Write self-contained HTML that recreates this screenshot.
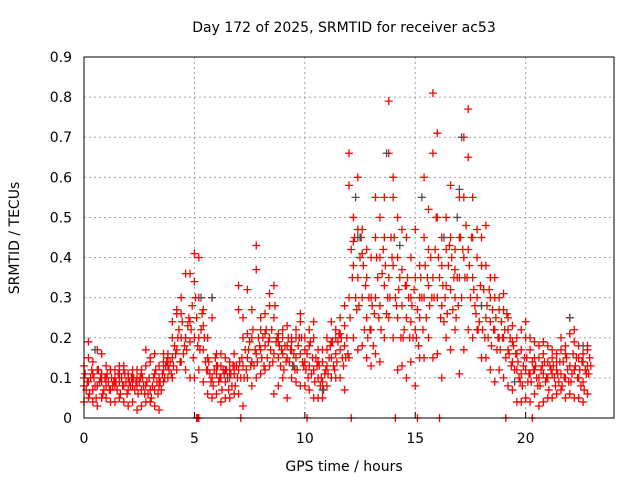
<!DOCTYPE html>
<html><head><meta charset="utf-8"><style>
body{margin:0;background:#fff;width:640px;height:480px;overflow:hidden}
svg{font-family:"DejaVu Sans","Liberation Sans",sans-serif;font-size:14px}
</style></head><body>
<svg id="chart" width="640" height="480">
<text x="344" y="32" text-anchor="middle">Day 172 of 2025, SRMTID for receiver ac53</text>
<text x="344" y="471" text-anchor="middle">GPS time / hours</text>
<text transform="translate(19,238) rotate(-90)" text-anchor="middle">SRMTID / TECUs</text>
<g id="grid"></g>
<g id="axes"></g>
<g id="marks"></g>
<rect x="84" y="57" width="530" height="361" fill="none" stroke="#000"/>
</svg>
<script>
const xTicks=[0,5,10,15,20];
const yTicks=[0,0.1,0.2,0.3,0.4,0.5,0.6,0.7,0.8,0.9];
const yTickLabels=["0","0.1","0.2","0.3","0.4","0.5","0.6","0.7","0.8","0.9"];
const tStep=0.2;
const redA=[.08,.09,.07,.08,.09,.08,.07,.08,.09,.08,.07,.08,.08,.07,.08,.07,.07,.08,.12,.13,.15,.17,.2,.2,.19,.2,.2,.17,.12,.1,.11,.1,.09,.1,.11,.12,.13,.15,.14,.16,.17,.18,.2,.16,.15,.16,.15,.17,.15,.16,.14,.13,.12,.1,.09,.13,.15,.16,.17,.18,.3,.38,.35,.3,.25,.22,.3,.28,.33,.35,.38,.25,.28,.25,.24,.22,.25,.3,.33,.35,.3,.28,.33,.32,.3,.35,.4,.42,.35,.3,.28,.25,.24,.22,.2,.2,.17,.14,.12,.11,.12,.11,.12,.1,.11,.1,.11,.12,.11,.1,.13,.12,.1,.09,.13];
const redB=[.04,.05,.04,.03,.05,.05,.04,.04,.05,.04,.03,.04,.02,.03,.04,.04,.03,.02,.09,.1,.1,.12,.14,.12,.1,.1,.12,.09,.06,.05,.06,.04,.05,.05,.06,.06,.03,.1,.08,.1,.11,.12,.13,.06,.08,.1,.05,.1,.09,.08,.08,.07,.05,.05,.05,.08,.1,.1,.1,.07,.15,.2,.17,.18,.15,.13,.16,.14,.2,.25,.2,.12,.13,.1,.14,.08,.15,.15,.2,.15,.16,.1,.2,.17,.22,.11,.17,.22,.2,.22,.15,.15,.12,.09,.12,.1,.08,.07,.04,.04,.05,.04,.06,.03,.04,.05,.05,.06,.07,.05,.06,.05,.05,.04,.06];
const redC=[.13,.15,.14,.12,.16,.13,.12,.12,.13,.12,.11,.12,.12,.11,.13,.14,.16,.13,.16,.16,.24,.27,.3,.36,.24,.41,.4,.27,.2,.3,.16,.16,.15,.14,.16,.33,.25,.32,.27,.43,.25,.26,.31,.33,.21,.22,.23,.2,.22,.26,.2,.22,.24,.17,.17,.2,.24,.2,.25,.28,.66,.5,.6,.47,.42,.4,.55,.5,.55,.79,.55,.5,.47,.45,.4,.47,.38,.6,.52,.81,.71,.45,.5,.58,.42,.55,.7,.77,.55,.47,.45,.48,.35,.35,.3,.31,.25,.23,.2,.22,.24,.2,.19,.18,.19,.18,.17,.16,.2,.18,.25,.22,.18,.16,.18];
const redD=[.10,.19,.11,.17,.11,.10,.12,.10,.11,.13,.10,.10,.10,.12,.17,.15,.11,.10,.14,.15,.2,.26,.26,.2,.36,.34,.3,.23,.15,.25,.13,.13,.12,.12,.13,.27,.2,.21,.2,.37,.22,.21,.28,.25,.19,.2,.18,.19,.2,.24,.17,.18,.2,.14,.14,.17,.19,.22,.21,.23,.58,.44,.47,.41,.35,.3,.45,.4,.45,.66,.6,.4,.37,.33,.3,.35,.3,.45,.42,.66,.5,.38,.42,.45,.37,.45,.55,.65,.45,.4,.38,.38,.3,.3,.27,.27,.22,.19,.16,.17,.2,.17,.15,.15,.16,.14,.15,.14,.17,.16,.21,.19,.15,.14,.17];
const redE=[.07,.1,.08,.09,.07,.09,.08,.07,.1,.09,.08,.07,.09,.08,.06,.08,.09,.07,.13,.14,.18,.22,.16,.23,.28,.25,.22,.14,.11,.12,.09,.12,.1,.08,.13,.1,.17,.19,.13,.2,.2,.15,.22,.19,.13,.18,.14,.16,.18,.14,.16,.11,.15,.08,.11,.15,.13,.19,.15,.2,.42,.3,.4,.22,.3,.18,.35,.36,.26,.45,.3,.35,.22,.3,.2,.27,.3,.25,.4,.42,.35,.24,.38,.27,.35,.3,.48,.3,.28,.24,.32,.2,.27,.17,.24,.15,.2,.12,.1,.13,.09,.14,.1,.12,.09,.13,.1,.09,.14,.12,.11,.15,.08,.12,.15];
const redF=[.11,.06,.1,.12,.06,.11,.1,.09,.06,.11,.09,.1,.06,.1,.09,.05,.12,.09,.1,.12,.13,.2,.24,.17,.22,.3,.17,.2,.14,.08,.13,.07,.12,.11,.08,.14,.1,.17,.22,.14,.15,.22,.17,.28,.18,.12,.2,.13,.12,.2,.12,.19,.09,.13,.07,.11,.19,.14,.2,.15,.25,.45,.28,.38,.2,.28,.4,.22,.38,.3,.45,.32,.2,.35,.28,.2,.35,.38,.28,.3,.4,.33,.26,.4,.25,.45,.35,.38,.32,.22,.22,.28,.18,.25,.17,.22,.16,.18,.14,.08,.15,.09,.13,.08,.14,.07,.13,.11,.08,.15,.09,.13,.12,.07,.11];
const redG=[.09,.12,.05,.1,.1,.07,.09,.11,.08,.06,.1,.09,.1,.06,.1,.1,.06,.11,.14,.11,.16,.14,.18,.25,.15,.18,.26,.12,.09,.15,.1,.11,.07,.13,.1,.15,.12,.13,.17,.18,.13,.19,.14,.2,.17,.14,.17,.12,.2,.13,.1,.15,.13,.1,.12,.18,.12,.21,.13,.16,.35,.27,.45,.33,.22,.26,.25,.42,.3,.4,.28,.2,.33,.2,.32,.18,.22,.35,.3,.5,.25,.3,.43,.35,.28,.42,.35,.45,.26,.33,.2,.32,.22,.2,.2,.26,.13,.16,.09,.15,.11,.12,.08,.13,.1,.12,.08,.14,.1,.09,.16,.1,.14,.11,.13];
const grayT=[0.5,5.3,5.8,6.5,9.5,10.8,12.3,12.4,12.5,13.7,14.3,15.3,16.3,16.9,17.0,17.1,18.0,19.5,22.0,22.6];
const grayV=[.17,.3,.3,.1,.13,.07,.55,.45,.45,.66,.43,.55,.45,.5,.57,.7,.28,.09,.25,.18];
const zeroT=[5.1,5.15,5.2,7.1,10.1,12.1,14.1,15.1,16.1,19.1,20.3];
const X=t=>84+t*530/24, Y=v=>418-v*361/0.9;
const NS="http://www.w3.org/2000/svg";
const grid=document.getElementById('grid'),axes=document.getElementById('axes'),marks=document.getElementById('marks');
function mk(tag,attrs,parent){const e=document.createElementNS(NS,tag);for(const k in attrs)e.setAttribute(k,attrs[k]);parent.appendChild(e);return e;}
xTicks.forEach(t=>{
 if(t>0){const g=mk('line',{x1:X(t),x2:X(t),y1:57,y2:418,stroke:'#a0a0a0','stroke-dasharray':'2,3'},grid);
 
 }
 const tk=mk('line',{x1:X(t),x2:X(t),y1:418,y2:412,stroke:'#000'},axes);
 
 
 const l=mk('text',{x:X(t),y:443,'text-anchor':'middle'},axes);l.textContent=t;
 
 
});
yTicks.forEach((v,i)=>{
 if(v>0&&v<0.9){const g=mk('line',{x1:84,x2:614,y1:Y(v),y2:Y(v),stroke:'#a0a0a0','stroke-dasharray':'2,3'},grid);
 
 }
 const l=mk('text',{x:72,y:Y(v)+5,'text-anchor':'end'},axes);l.textContent=yTickLabels[i];
 
 
});
function plus(t,v,col,name){
 const x=X(t),y=Y(v);
 const p=mk('path',{d:`M${x-4},${y}h8M${x},${y-4}v8`,stroke:col,'stroke-width':1.3,fill:'none'},marks);
 
 
}
[redA,redB,redC,redD].forEach(arr=>arr.forEach((v,i)=>plus(i*tStep,v,'#ff0000','red-point')));
redE.forEach((v,i)=>plus(i*tStep+0.1,v,'#ff0000','red-point'));
redF.forEach((v,i)=>plus(i*tStep+0.05,v,'#ff0000','red-point'));
redG.forEach((v,i)=>plus(i*tStep+0.15,v,'#ff0000','red-point'));
zeroT.forEach(t=>plus(t,0,'#ff0000','red-zero-point'));
grayT.forEach((t,i)=>plus(t,grayV[i],'#505050','gray-point'));
</script>
</body></html>
